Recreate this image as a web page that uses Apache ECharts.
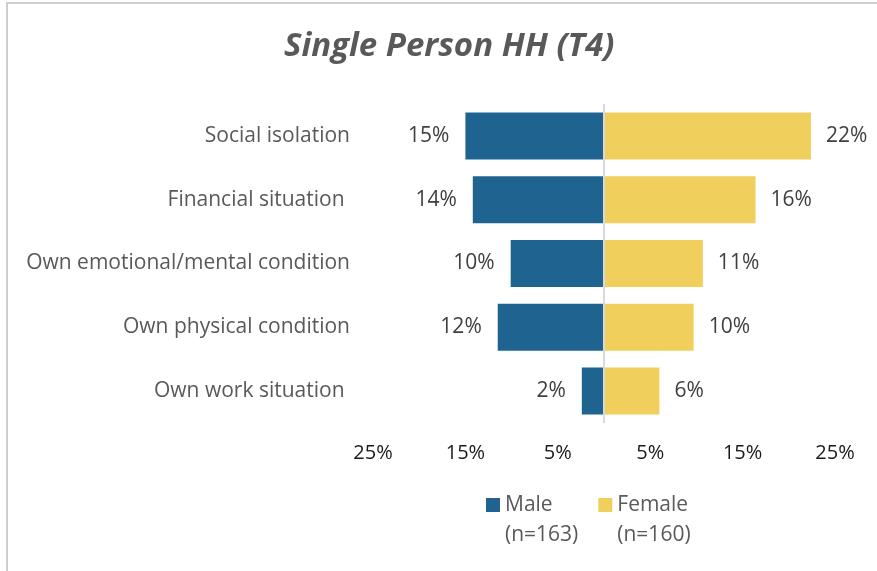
<!DOCTYPE html>
<html>
<head>
<meta charset="utf-8">
<script src="https://cdn.jsdelivr.net/npm/echarts@6/dist/echarts.min.js"></script>
<style>
    html, body { margin: 0; padding: 0; background: #fff; }
    #chart { width: 877px; height: 571px; }
</style>
</head>
<body>
<div id="chart"></div>
<script>
// [ Data ]
const categories = ['Social isolation', 'Financial situation ', 'Own emotional/mental condition', 'Own physical condition', 'Own work situation '];
const maleValues = [15.0, 14.2, 10.1, 11.5, 2.4];
const femaleValues = [22.4, 16.4, 10.7, 9.7, 6.0];
const seriesNames = ['Male\n(n=163)', 'Female\n(n=160)'];
const tickLabels = [-25, -15, -5, 5, 15, 25];

const font = 'Open Sans';
const chart = echarts.init(document.getElementById('chart'));

const options = {
    animation: false,
    title: {
        text: 'Single Person HH (T4)',
        left: 279,
        top: 25,
        textStyle: { fontFamily: font, fontSize: 33, fontWeight: 'bold', fontStyle: 'italic', color: '#595959' }
    },
    graphic: [{
        type: 'rect',
        shape: { x: 7, y: 3, width: 900, height: 600 },
        style: { fill: 'none', stroke: '#bfbfbf', lineWidth: 1.5 }
    }],
    legend: {
        data: seriesNames,
        left: 486,
        top: 460,
        padding: 0,
        itemWidth: 14,
        itemHeight: 14,
        itemGap: 20,
        icon: 'rect',
        // blank first line so the marker sits beside the first text line
        formatter: name => ' \n' + name,
        textStyle: { fontFamily: font, fontSize: 21, color: '#595959', lineHeight: 30 }
    },
    grid: { left: 373, right: 42, top: 104, bottom: 148 },
    xAxis: {
        type: 'value',
        min: -25,
        max: 25,
        interval: 5,
        splitLine: { show: false },
        axisLine: { show: false },
        axisTick: { show: false },
        axisLabel: {
            margin: 20,
            fontFamily: font,
            fontSize: 20,
            color: '#1a1a1a',
            formatter: v => tickLabels.includes(v) ? Math.abs(v) + '%' : ''
        }
    },
    yAxis: {
        type: 'category',
        data: categories,
        inverse: true,
        axisLine: { show: false, onZero: false },
        axisTick: { show: false },
        axisLabel: { margin: 23, fontFamily: font, fontSize: 21, color: '#595959' }
    },
    series: [
        {
            name: seriesNames[0],
            type: 'bar',
            stack: 'total',
            barWidth: 47,
            itemStyle: { color: '#1F6391' },
            label: {
                show: true,
                position: 'left',
                distance: 16,
                fontFamily: font,
                fontSize: 21,
                color: '#404040',
                formatter: p => Math.round(Math.abs(p.value)) + '%'
            },
            data: maleValues.map(v => -v),
            markLine: {
                silent: true,
                symbol: 'none',
                label: { show: false },
                lineStyle: { color: '#d9d9d9', width: 2, type: 'solid' },
                data: [{ xAxis: 0 }]
            }
        },
        {
            name: seriesNames[1],
            type: 'bar',
            stack: 'total',
            barWidth: 47,
            itemStyle: { color: '#F1CF5C' },
            label: {
                show: true,
                position: 'right',
                distance: 15,
                fontFamily: font,
                fontSize: 21,
                color: '#404040',
                formatter: p => Math.round(p.value) + '%'
            },
            data: femaleValues
        }
    ]
};

chart.setOption(options);
</script>
</body>
</html>
